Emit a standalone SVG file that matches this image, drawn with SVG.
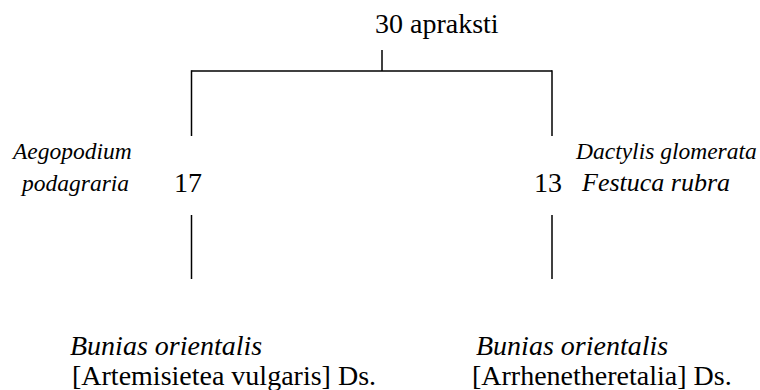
<svg xmlns="http://www.w3.org/2000/svg" width="760" height="390" viewBox="0 0 760 390">
<style>
text{font-family:'Liberation Serif','Times New Roman',Times,serif;fill:#000}
.n{font-size:28px}
.il{font-size:23.5px;font-style:italic}
.ir{font-size:23.5px;font-style:italic}
.ir2{font-size:26px;font-style:italic}
.bi{font-style:italic}
.c line{stroke:#000;stroke-width:1.5;fill:none}
</style>
<rect width="760" height="390" fill="#fff"/>
<g class="c" id="connectors">
<line x1="382" y1="50" x2="382" y2="71"/>
<line x1="191.5" y1="71" x2="552" y2="71"/>
<line x1="191.5" y1="70.25" x2="191.5" y2="136"/>
<line x1="552" y1="70.25" x2="552" y2="136"/>
<line x1="191.5" y1="215" x2="191.5" y2="279"/>
<line x1="552" y1="215" x2="552" y2="279"/>
</g>
<g id="root"><text class="n" x="375" y="33">30 apraksti</text></g>
<g id="left"><text class="n" x="174" y="192">17</text></g>
<g id="right"><text class="n" x="534" y="192">13</text></g>
<g id="left-species"><text class="il" x="13" y="159">Aegopodium</text><text class="il" x="22" y="191">podagraria</text></g>
<g id="right-species"><text class="ir" x="576" y="159">Dactylis glomerata</text><text class="ir2" x="582" y="191">Festuca rubra</text></g>
<g id="left-result"><text class="n bi" x="70" y="355">Bunias orientalis</text><text class="n" x="72" y="385">[Artemisietea vulgaris] Ds.</text></g>
<g id="right-result"><text class="n bi" x="476" y="355">Bunias orientalis</text><text class="n" x="472" y="385">[Arrhenetheretalia] Ds.</text></g>
</svg>
